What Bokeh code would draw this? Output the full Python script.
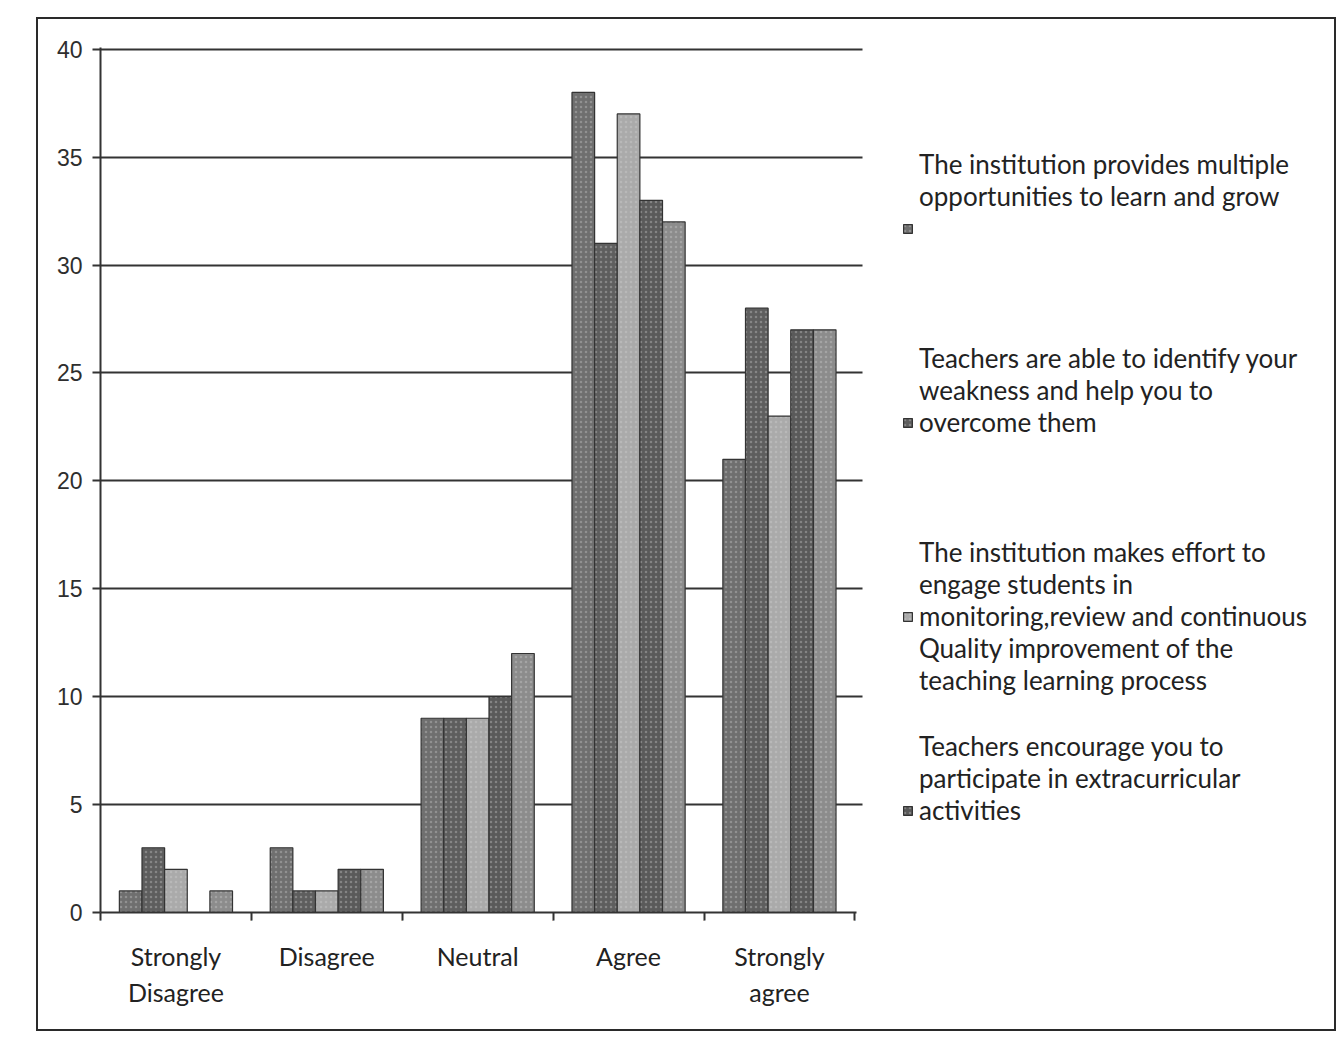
from bokeh.plotting import figure
from bokeh.models import (ColumnDataSource, FactorRange, Range1d, SingleIntervalTicker,
                          CategoricalAxis, CategoricalScale, Legend, LegendItem)
from bokeh.transform import dodge
from bokeh.embed import file_html
from bokeh.resources import INLINE

categories = ["Strongly\nDisagree", "Disagree", "Neutral", "Agree", "Strongly\nagree"]
# empty slots to the right of the groups leave room for the legend inside the frame
blank_slots = ["", " ", "  "]

series_names = [
    "The institution provides multiple\nopportunities to learn and grow",
    "Teachers are able to identify your\nweakness and help you to\novercome them",
    "The institution makes effort to\nengage students in\nmonitoring,review and continuous\nQuality improvement of the\nteaching learning process",
    "Teachers encourage you to\nparticipate in extracurricular\nactivities",
    "Series 5",
]
s1 = [1, 3, 9, 38, 21]
s2 = [3, 1, 9, 31, 28]
s3 = [2, 1, 9, 37, 23]
s4 = [0, 2, 10, 33, 27]
s5 = [1, 2, 12, 32, 27]
series_values = [s1, s2, s3, s4, s5]
colors = ["#6f6f6f", "#5e5e5e", "#aaaaaa", "#5a5a5a", "#8c8c8c"]

src = ColumnDataSource(data=dict(cat=categories, s1=s1, s2=s2, s3=s3, s4=s4, s5=s5))

FONT = "Lato"

p = figure(x_range=FactorRange(*(categories + blank_slots)), y_range=Range1d(0, 40.08),
           width=1300, height=1014, output_backend="svg", toolbar_location=None,
           min_border_left=62, min_border_right=31, min_border_top=28, min_border_bottom=121)
p.margin = (17, 0, 0, 36)
p.styles = {"border": "2px solid #2a2a2a"}
p.background_fill_color = "white"
p.border_fill_color = "white"
p.outline_line_color = None
p.x_range.range_padding = 0

offsets = [-0.3, -0.15, 0.0, 0.15, 0.3]
renderers = []
for i, key in enumerate(["s1", "s2", "s3", "s4", "s5"]):
    r = p.vbar(x=dodge("cat", offsets[i], range=p.x_range), top=key, width=0.15, source=src,
               fill_color=colors[i], line_color="#333333", line_width=1.2,
               hatch_pattern="dot", hatch_color="#d0d0d0", hatch_alpha=0.35, hatch_scale=5)
    renderers.append(r)

# y axis
p.yaxis.ticker = SingleIntervalTicker(interval=5)
p.yaxis.axis_line_color = "#333333"
p.yaxis.axis_line_width = 2
p.yaxis.major_tick_out = 8
p.yaxis.major_tick_in = 0
p.yaxis.major_tick_line_color = "#333333"
p.yaxis.major_tick_line_width = 2
p.yaxis.minor_tick_line_color = None
p.yaxis.major_label_text_font = "Liberation Sans"
p.yaxis.major_label_text_font_size = "23px"
p.yaxis.major_label_text_color = "#2e2e2e"
p.yaxis.major_label_standoff = 10

p.ygrid.grid_line_color = "#333333"
p.ygrid.grid_line_width = 2
try:
    p.ygrid.cross_bounds = (0, 5.05)
except Exception:
    pass
p.xgrid.grid_line_color = None

# category axis (two-line labels)
cat_axis = p.xaxis[0]
cat_axis.axis_line_color = None
cat_axis.major_tick_line_color = None
cat_axis.major_label_text_font = FONT
cat_axis.major_label_text_font_size = "25px"
cat_axis.major_label_text_color = "#222222"
cat_axis.major_label_text_line_height = 1.2
cat_axis.major_label_standoff = 10

# boundary tick axis (ticks between categories)
bounds = ["b%d" % k for k in range(9)]
p.extra_x_ranges = {"bound": FactorRange(factors=bounds, range_padding=-0.5,
                                         range_padding_units="absolute")}
p.extra_x_scales = {"bound": CategoricalScale()}
tick_axis = CategoricalAxis(x_range_name="bound", bounds=(0.49, 5.51),
                            major_label_overrides={b: "" for b in bounds},
                            major_label_text_font_size="1px", major_label_standoff=0,
                            axis_line_color="#333333", axis_line_width=2,
                            major_tick_out=8, major_tick_in=0, major_tick_line_color="#333333",
                            major_tick_line_width=2, minor_tick_line_color=None)
p.add_layout(tick_axis, "below")
p.below = [tick_axis, cat_axis]

# legend inside the frame, in the empty slots; entries padded to five lines so texts start at the top
MAX_LINES = 5
items = []
for i in range(4):
    pad = MAX_LINES - 1 - series_names[i].count("\n")
    items.append(LegendItem(label=series_names[i] + "\n " * pad, renderers=[renderers[i]]))
leg = Legend(items=items, location=(802, 22), padding=0, margin=0, spacing=34,
             border_line_color=None, background_fill_alpha=0,
             label_text_font=FONT, label_text_font_size="26px",
             label_text_color="#222222",
             glyph_width=11, glyph_height=11, label_standoff=6)
p.add_layout(leg, "center")

open("out.html", "w").write(file_html(p, INLINE))
